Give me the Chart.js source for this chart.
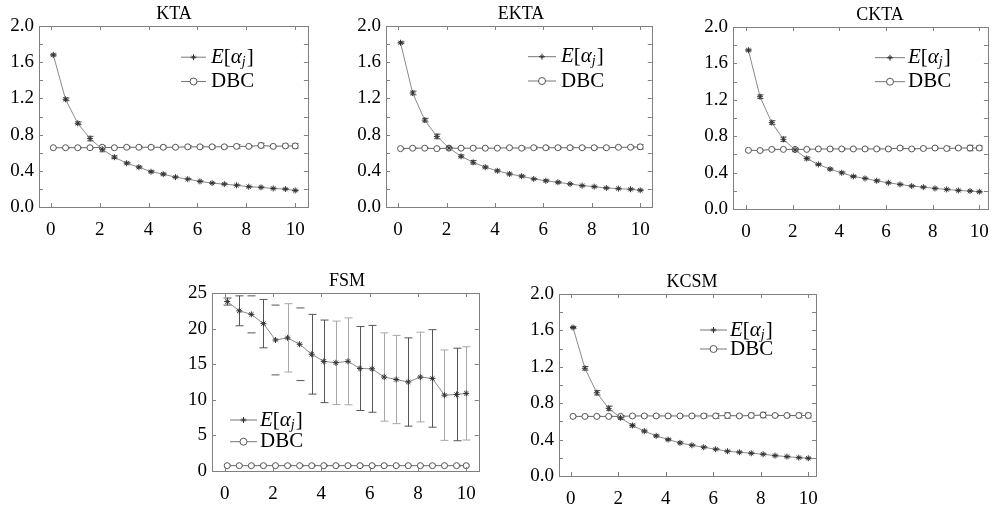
<!DOCTYPE html>
<html><head><meta charset="utf-8">
<script src="https://cdn.jsdelivr.net/npm/chart.js@4.4.1/dist/chart.umd.min.js"></script>
<style>
body{margin:0;background:#fff;width:1001px;height:507px;overflow:hidden;position:relative}
.c{position:absolute}
</style></head><body>
<script>
// ---------- data ----------
const xValues = [0.1,0.6,1.1,1.6,2.1,2.6,3.1,3.6,4.1,4.6,5.1,5.6,6.1,6.6,7.1,7.6,8.1,8.6,9.1,9.6,10.0];
const xTickValues = [0,2,4,6,8,10];
const yTicksSmall = [0,0.4,0.8,1.2,1.6,2.0];
const yMinorSmall = [0,0.2,0.4,0.6,0.8,1.0,1.2,1.4,1.6,1.8,2.0];
const yTicksFSM = [0,5,10,15,20,25];

const ktaE    = [1.68,1.19,0.925,0.756,0.64,0.55,0.484,0.44,0.39,0.363,0.33,0.308,0.283,0.264,0.253,0.24,0.224,0.217,0.205,0.198,0.183];
const ktaEErr = [0.01,0.015,0.015,0.025,0.03,0.015,0.01,0.01,0.01,0.01,0.005,0.005,0.005,0.005,0.005,0.005,0.005,0.005,0.005,0.005,0.005];
const ktaD    = [0.655,0.655,0.655,0.655,0.66,0.655,0.66,0.66,0.66,0.66,0.66,0.665,0.665,0.665,0.665,0.67,0.67,0.68,0.67,0.675,0.675];
const ktaDErr = [0.005,0.005,0.005,0.005,0.02,0.005,0.01,0.01,0.015,0.015,0.01,0.015,0.015,0.015,0.015,0.02,0.01,0.025,0.01,0.02,0.025];

const ektaE    = [1.815,1.26,0.96,0.78,0.653,0.56,0.494,0.44,0.40,0.365,0.34,0.31,0.29,0.273,0.255,0.236,0.225,0.21,0.203,0.196,0.185];
const ektaEErr = [0.01,0.02,0.02,0.025,0.01,0.015,0.02,0.01,0.01,0.01,0.01,0.005,0.01,0.01,0.005,0.005,0.005,0.005,0.005,0.005,0.005];
const ektaD    = [0.645,0.65,0.65,0.645,0.65,0.65,0.65,0.65,0.65,0.655,0.65,0.655,0.655,0.655,0.655,0.655,0.655,0.655,0.66,0.66,0.665];
const ektaDErr = [0.005,0.005,0.005,0.005,0.005,0.005,0.005,0.005,0.005,0.01,0.015,0.015,0.015,0.015,0.015,0.015,0.015,0.015,0.01,0.01,0.025];

const cktaE    = [1.745,1.234,0.95,0.766,0.65,0.555,0.49,0.438,0.398,0.358,0.336,0.31,0.288,0.27,0.252,0.24,0.226,0.215,0.204,0.197,0.19];
const cktaEErr = [0.01,0.02,0.02,0.025,0.02,0.015,0.01,0.01,0.01,0.01,0.005,0.01,0.005,0.005,0.005,0.005,0.005,0.005,0.005,0.005,0.005];
const cktaD    = [0.645,0.643,0.655,0.655,0.655,0.655,0.66,0.66,0.66,0.66,0.66,0.66,0.66,0.67,0.66,0.665,0.67,0.665,0.67,0.67,0.67];
const cktaDErr = [0.005,0.005,0.005,0.005,0.01,0.005,0.005,0.01,0.01,0.01,0.01,0.01,0.01,0.015,0.005,0.015,0.01,0.02,0.015,0.03,0.025];

const fsmE    = [23.8,22.5,22.0,20.7,18.4,18.7,17.8,16.4,15.4,15.2,15.4,14.4,14.35,13.2,12.85,12.5,13.2,13.0,10.65,10.75,10.9];
const fsmEErr = [0.5,2.1,2.6,3.4,4.9,4.8,5.1,5.6,5.8,5.85,6.1,5.9,6.1,6.2,6.2,6.2,6.3,6.85,6.35,6.5,6.55];
const fsmD    = [0.75,0.75,0.75,0.75,0.75,0.75,0.75,0.75,0.75,0.75,0.75,0.75,0.75,0.75,0.75,0.75,0.75,0.75,0.75,0.75,0.75];
const fsmDErr = [0.1,0.1,0.1,0.1,0.1,0.1,0.1,0.1,0.1,0.1,0.1,0.1,0.1,0.1,0.1,0.1,0.1,0.1,0.1,0.1,0.1];

const kcsmE    = [1.632,1.184,0.915,0.743,0.64,0.555,0.493,0.441,0.40,0.364,0.338,0.316,0.294,0.272,0.261,0.25,0.239,0.224,0.213,0.202,0.195];
const kcsmEErr = [0.01,0.02,0.025,0.025,0.02,0.015,0.01,0.01,0.01,0.01,0.005,0.005,0.005,0.005,0.005,0.005,0.005,0.005,0.005,0.005,0.005];
const kcsmD    = [0.655,0.655,0.655,0.655,0.655,0.66,0.66,0.66,0.66,0.66,0.66,0.66,0.66,0.665,0.66,0.665,0.67,0.665,0.665,0.665,0.665];
const kcsmDErr = [0.005,0.005,0.005,0.005,0.01,0.01,0.015,0.015,0.01,0.01,0.01,0.02,0.025,0.03,0.015,0.025,0.03,0.01,0.015,0.025,0.025];

// style of FSM error bars: 0 dark, 1 light, 2 caps only
const fsmErrStyle = [0,0,2,0,2,1,2,0,0,1,1,0,0,1,1,0,1,0,1,0,1];

// ---------- drawing helpers ----------
const FONT = '"Liberation Serif", serif';
Chart.defaults.font.family = FONT;
const L = 40, T = 26, B = 34;

const errorBarPlugin = {
  id: 'errBars',
  beforeDatasetsDraw(chart) {
    const ctx = chart.ctx, xs = chart.scales.x, ys = chart.scales.y;
    chart.data.datasets.forEach(ds => {
      if (!ds.err) return;
      ds.data.forEach((p, i) => {
        const e = ds.err[i];
        const px = Math.round(xs.getPixelForValue(p.x)) + 0.5;
        const y1 = ys.getPixelForValue(p.y + e), y2 = ys.getPixelForValue(p.y - e);
        const st = ds.errStyle ? ds.errStyle[i] : 0;
        ctx.save();
        ctx.strokeStyle = st === 1 ? '#a8a8a8' : (ds.errColor || '#555');
        ctx.lineWidth = 1;
        ctx.beginPath();
        if (st !== 2) { ctx.moveTo(px, y1); ctx.lineTo(px, y2); }
        const w = ds.capW || 3;
        ctx.moveTo(px - w, y1); ctx.lineTo(px + w, y1);
        ctx.moveTo(px - w, y2); ctx.lineTo(px + w, y2);
        ctx.stroke();
        ctx.restore();
      });
    });
  }
};

function drawStar(ctx, x, y, r) {
  ctx.beginPath();
  ctx.moveTo(x - r, y); ctx.lineTo(x + r, y);
  ctx.moveTo(x, y - r); ctx.lineTo(x, y + r);
  const d = r * 0.5;
  ctx.moveTo(x - d, y - d); ctx.lineTo(x + d, y + d);
  ctx.moveTo(x - d, y + d); ctx.lineTo(x + d, y - d);
  ctx.stroke();
}

const framePlugin = {
  id: 'frame',
  afterDraw(chart, args, o) {
    const ctx = chart.ctx, a = chart.chartArea, xs = chart.scales.x, ys = chart.scales.y;
    ctx.save();
    ctx.strokeStyle = '#808080';
    ctx.lineWidth = 1;
    ctx.strokeRect(Math.round(a.left) + 0.5, Math.round(a.top) + 0.5, Math.round(a.right - a.left) - 1, Math.round(a.bottom - a.top));
    ctx.beginPath();
    o.xTicks.forEach(v => {
      const px = Math.round(xs.getPixelForValue(v)) + 0.5;
      ctx.moveTo(px, a.bottom); ctx.lineTo(px, a.bottom - 4);
      ctx.moveTo(px, a.top); ctx.lineTo(px, a.top + 4);
    });
    o.yMinor.forEach(v => {
      const py = Math.round(ys.getPixelForValue(v)) + 0.5;
      ctx.moveTo(a.left, py); ctx.lineTo(a.left + 4, py);
      ctx.moveTo(a.right - 1, py); ctx.lineTo(a.right - 5, py);
    });
    ctx.stroke();

    // title
    ctx.fillStyle = '#000';
    ctx.font = '18px ' + FONT;
    ctx.textAlign = 'center';
    ctx.textBaseline = 'middle';
    ctx.fillText(o.title, o.titleX, a.top - 12);

    // legend
    const lg = o.legend;
    ctx.textAlign = 'left';
    ctx.strokeStyle = '#777';
    ctx.beginPath();
    ctx.moveTo(lg.x1, lg.y1); ctx.lineTo(lg.x2, lg.y1);
    ctx.moveTo(lg.x1, lg.y2); ctx.lineTo(lg.x2, lg.y2);
    ctx.stroke();
    ctx.strokeStyle = '#333';
    drawStar(ctx, (lg.x1 + lg.x2) / 2, lg.y1, 3);
    ctx.strokeStyle = '#555';
    ctx.fillStyle = '#fff';
    ctx.beginPath(); ctx.arc((lg.x1 + lg.x2) / 2, lg.y2, 3.5, 0, Math.PI * 2); ctx.fill(); ctx.stroke();
    ctx.fillStyle = '#000';
    let x = lg.tx;
    const parts = [['E', 'italic 21px '], ['[', '21px '], ['\u03B1', 'italic 21px ']];
    parts.forEach(([s, f]) => { ctx.font = f + FONT; ctx.fillText(s, x, lg.y1); x += ctx.measureText(s).width; });
    ctx.font = 'italic 14px ' + FONT; ctx.fillText('j', x, lg.y1 + 5); x += ctx.measureText('j').width + 1;
    ctx.font = '21px ' + FONT; ctx.fillText(']', x, lg.y1);
    ctx.fillText('DBC', lg.tx, lg.y2);
    ctx.restore();
  }
};

function makeChart(c) {
  const [pl, pt, pr, pb] = c.box;
  const R = c.right !== undefined ? c.right : 6;
  const left = pl - L, top = pt - T;
  const w = (pr - pl) + L + R, h = (pb - pt) + T + B;
  const div = document.createElement('div');
  div.className = 'c';
  div.style.left = left + 'px'; div.style.top = top + 'px';
  div.style.width = w + 'px'; div.style.height = h + 'px';
  const cv = document.createElement('canvas');
  cv.width = w; cv.height = h;
  div.appendChild(cv);
  document.body.appendChild(div);
  const mk = arr => arr.map((v, i) => ({x: xValues[i], y: v}));
  new Chart(cv, {
    type: 'line',
    data: {
      datasets: [
        {label: 'E', data: mk(c.E), err: c.EErr, errStyle: c.errStyle, capW: c.capW,
         borderColor: '#8a8a8a', borderWidth: 1, pointStyle: 'star', pointRadius: 3,
         pointBorderColor: '#333', pointBorderWidth: 1, tension: 0},
        {label: 'DBC', data: mk(c.D), err: c.DErr, capW: 3,
         borderColor: '#666', borderWidth: 1, pointStyle: 'circle', pointRadius: 3,
         pointBorderColor: '#555', pointBackgroundColor: '#fff', pointBorderWidth: 1, tension: 0}
      ]
    },
    options: {
      responsive: false, animation: false,
      layout: {padding: {top: T, right: R, left: 0, bottom: 0}},
      plugins: {
        legend: {display: false}, tooltip: {enabled: false},
        frame: {
          xTicks: xTickValues, yMinor: c.yMinor, title: c.title,
          titleX: c.titleX - left,
          legend: {x1: c.lg[0] - left, x2: c.lg[1] - left, tx: c.lg[2] - left, y1: c.lg[3] - top, y2: c.lg[4] - top}
        }
      },
      scales: {
        x: {type: 'linear', min: c.xMin, max: c.xMax,
            afterBuildTicks: s => { s.ticks = xTickValues.map(v => ({value: v})); },
            afterFit: s => { s.height = B; },
            grid: {display: false, drawTicks: false}, border: {display: false},
            ticks: {font: {family: FONT, size: 19}, color: '#000', padding: 12, maxRotation: 0,
                    callback: v => String(v)}},
        y: {type: 'linear', min: 0, max: c.yMax,
            afterBuildTicks: s => { s.ticks = c.yTicks.map(v => ({value: v})); },
            afterFit: s => { s.width = L; },
            grid: {display: false, drawTicks: false}, border: {display: false},
            ticks: {font: {family: FONT, size: 19}, color: '#000', padding: 5,
                    callback: v => c.yMax > 5 ? String(v) : v.toFixed(1)}}
      }
    },
    plugins: [errorBarPlugin, framePlugin]
  });
}

makeChart({title: 'KTA', titleX: 174, box: [39, 25.5, 311.5, 207], xMin: -0.486, xMax: 10.56, yMax: 2,
  yTicks: yTicksSmall, yMinor: yMinorSmall, E: ktaE, EErr: ktaEErr, D: ktaD, DErr: ktaDErr, capW: 3,
  lg: [181, 206, 211, 56.7, 81]});
makeChart({title: 'EKTA', titleX: 521, box: [386, 26, 656, 207], xMin: -0.50, xMax: 10.52, yMax: 2,
  yTicks: yTicksSmall, yMinor: yMinorSmall, E: ektaE, EErr: ektaEErr, D: ektaD, DErr: ektaDErr, capW: 3,
  lg: [528, 556, 561, 56.7, 81]});
makeChart({title: 'CKTA', titleX: 880, box: [733, 27, 1000, 209.5], xMin: -0.56, xMax: 10.41, yMax: 2, right: 1,
  yTicks: yTicksSmall, yMinor: yMinorSmall, E: cktaE, EErr: cktaEErr, D: cktaD, DErr: cktaDErr, capW: 3,
  lg: [875, 905, 908, 57.7, 81.7]});
makeChart({title: 'FSM', titleX: 347, box: [212, 293, 482, 471], xMin: -0.53, xMax: 10.56, yMax: 25,
  yTicks: yTicksFSM, yMinor: yTicksFSM, E: fsmE, EErr: fsmEErr, D: fsmD, DErr: fsmDErr, capW: 4, errStyle: fsmErrStyle,
  lg: [230, 257, 260, 420, 441.7]});
makeChart({title: 'KCSM', titleX: 692, box: [559, 294, 824, 476], xMin: -0.49, xMax: 10.37, yMax: 2,
  yTicks: yTicksSmall, yMinor: yMinorSmall, E: kcsmE, EErr: kcsmEErr, D: kcsmD, DErr: kcsmDErr, capW: 3,
  lg: [700, 727, 730, 330, 349]});
</script>
</body></html>
